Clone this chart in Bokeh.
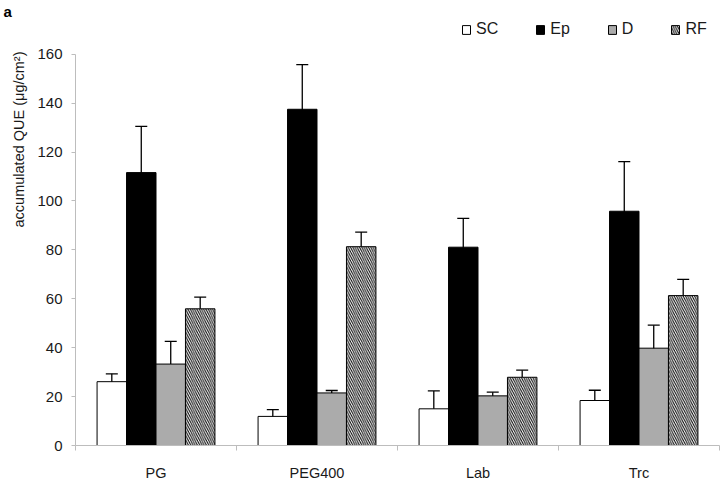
import math
from bokeh.plotting import figure
from bokeh.models import (ColumnDataSource, Range1d, FixedTicker, Title,
                          Whisker, TeeHead, Legend, LegendItem)
from bokeh.transform import dodge
from bokeh.embed import file_html
from bokeh.resources import INLINE

categories = ["PG", "PEG400", "Lab", "Trc"]
series = ["SC", "Ep", "D", "RF"]
sc = [26.1, 11.9, 15.0, 18.4]
sc_err = [3.2, 2.8, 7.3, 4.2]
ep = [111.6, 137.5, 81.1, 95.8]
ep_err = [18.9, 18.3, 11.8, 20.3]
d = [33.3, 21.5, 20.3, 39.8]
d_err = [9.3, 1.0, 1.5, 9.4]
rf = [55.9, 81.3, 27.9, 61.3]
rf_err = [4.8, 6.0, 2.9, 6.6]
y_ticks = [0, 20, 40, 60, 80, 100, 120, 140, 160]

FONT = "Liberation Sans"
W, H = 726, 483
LEFT, RIGHT, TOP, BOTTOM = 75, 7, 18, 36
PX_PER_UNIT = 394 / 160.0
frame_h = H - TOP - BOTTOM
y_top = frame_h / PX_PER_UNIT

n = len(categories)
centers = [i + 0.5 for i in range(n)]

p = figure(width=W, height=H, output_backend="svg", toolbar_location=None,
           x_range=Range1d(0, n), y_range=Range1d(0, y_top),
           min_border_left=LEFT, min_border_right=RIGHT,
           min_border_top=TOP, min_border_bottom=BOTTOM)
p.outline_line_color = None
p.grid.visible = False
p.background_fill_color = "white"

src = ColumnDataSource(dict(x=centers, cat=categories, sc=sc, ep=ep, d=d, rf=rf,
                            sc_lo=[v - e for v, e in zip(sc, sc_err)], sc_hi=[v + e for v, e in zip(sc, sc_err)],
                            ep_lo=[v - e for v, e in zip(ep, ep_err)], ep_hi=[v + e for v, e in zip(ep, ep_err)],
                            d_lo=[v - e for v, e in zip(d, d_err)], d_hi=[v + e for v, e in zip(d, d_err)],
                            rf_lo=[v - e for v, e in zip(rf, rf_err)], rf_hi=[v + e for v, e in zip(rf, rf_err)]))

bw = 0.183
offsets = [-1.5 * bw, -0.5 * bw, 0.5 * bw, 1.5 * bw]
styles = {
    "sc": dict(fill_color="white"),
    "ep": dict(fill_color="black"),
    "d": dict(fill_color="#ABABAB"),
    "rf": dict(fill_color="white", hatch_pattern="\\", hatch_color="black", hatch_scale=4.5, hatch_weight=1),
}
renderers = []
for key, off in zip(["sc", "ep", "d", "rf"], offsets):
    r = p.vbar(x=dodge("x", off), top=key, bottom=0, width=bw, source=src,
               line_color="black", line_width=1, **styles[key])
    renderers.append(r)
for key, off in zip(["sc", "ep", "d", "rf"], offsets):
    w = Whisker(base=dodge("x", off), lower=key + "_lo", upper=key + "_hi", source=src,
                line_color="black", line_width=1.3,
                upper_head=TeeHead(size=12, line_color="black", line_width=1.3),
                lower_head=TeeHead(size=12, line_color="black", line_width=1.3))
    p.add_layout(w)

# y axis
ya = p.yaxis[0]
ya.ticker = FixedTicker(ticks=y_ticks)
ya.bounds = (0, 160)
ya.axis_line_color = "#BDBDBD"
ya.major_tick_line_color = "#BDBDBD"
ya.major_tick_out = 4
ya.major_tick_in = 0
ya.minor_tick_line_color = None
ya.major_label_text_font = FONT
ya.major_label_text_font_size = "15px"
ya.major_label_text_color = "#1a1a1a"
ya.major_label_standoff = 9

# x axis: labels at category centres, ticks at category boundaries
xa = p.xaxis[0]
xa.ticker = FixedTicker(ticks=centers, minor_ticks=list(range(n + 1)))
xa.major_label_overrides = {c: lab for c, lab in zip(centers, categories)}
xa.axis_line_color = "#BDBDBD"
xa.major_tick_line_color = None
xa.major_tick_out = 0
xa.major_tick_in = 0
xa.minor_tick_line_color = "#BDBDBD"
xa.minor_tick_out = 5
xa.minor_tick_in = 0
xa.major_label_text_font = FONT
xa.major_label_text_font_size = "14.5px"
xa.major_label_text_color = "#1a1a1a"
xa.major_label_standoff = 14

# legend
legend = Legend(items=[LegendItem(label=s, renderers=[r]) for s, r in zip(series, renderers)],
                orientation="horizontal", location=(386, 407),
                glyph_width=10, glyph_height=11, label_standoff=5, label_width=10, spacing=37,
                padding=0, margin=0, border_line_color=None, background_fill_alpha=0,
                label_text_font=FONT, label_text_font_size="16px", label_text_color="#1a1a1a")
p.add_layout(legend, "center")

# panel letter (above) and y title (left)
ttl = Title(text="a", align="left", offset=-72, standoff=0, text_font=FONT,
            text_font_style="bold", text_font_size="15px", text_color="black")
p.add_layout(ttl, "above")
ytitle = Title(text="accumulated QUE (μg/cm²)", align="right", offset=50 - TOP,
               standoff=16, text_font=FONT, text_font_style="normal", text_font_size="14.5px",
               text_color="#1a1a1a")
p.add_layout(ytitle, "left")

open("out.html", "w").write(file_html(p, INLINE))
